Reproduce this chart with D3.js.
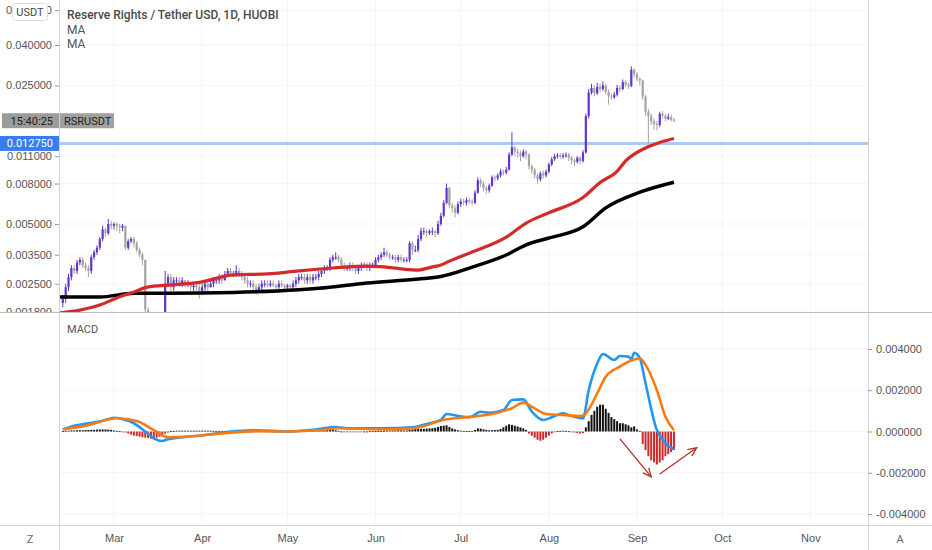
<!DOCTYPE html>
<html>
<head>
<meta charset="utf-8">
<script src="https://cdn.jsdelivr.net/npm/d3@7"></script>
<style>
  body { margin: 0; background: #fff; }
  svg { display: block; font-family: Roboto, "Open Sans", sans-serif; }
</style>
</head>
<body>
<svg id="chart" width="932" height="550"></svg>
<script>
// daily candles, first one is 2020-02-12
const firstDay = "2020-02-12";

const open = [
  .0020,.0021,.0024,.0027,.0030,.0029,.0032,.0033,.0031,.0030,
  .0029,.0034,.0036,.0038,.0042,.0047,.0045,.0050,.0049,.0050,
  .0049,.0048,.0049,.0038,.0041,.0042,.0040,.0037,.0035,.0033,
  .00185,.0017,.00175,.0017,.00172,.0017,.00175,.0025,.0027,.0024,
  .0026,.0026,.0025,.0026,.0025,.0025,.0024,.00245,.0024,.0023,
  .0024,.0025,.0024,.0025,.0026,.0026,.0027,.0026,.0028,.0029,
  .0028,.0028,.0029,.0028,.0027,.0026,.0025,.0025,.0024,.0023,
  .0024,.0025,.0025,.00245,.0025,.00245,.0024,.0025,.00245,.0024,
  .00245,.0024,.0025,.0026,.0027,.0027,.0026,.0027,.0026,.0027,
  .0027,.0028,.0029,.0030,.0030,.0033,.0034,.0034,.0033,.0031,
  .0030,.0030,.0031,.0030,.0029,.0030,.0031,.0031,.0030,.0031,
  .0031,.0033,.0034,.0035,.0036,.0035,.0034,.0034,.0033,.0034,
  .0033,.0033,.0033,.0040,.0037,.0037,.0042,.0046,.0046,.0045,
  .0046,.0046,.0045,.0050,.0055,.0064,.0076,.0062,.0060,.0057,
  .0063,.0065,.0064,.0066,.0065,.0064,.0072,.0083,.0080,.0076,
  .0074,.0078,.0086,.0085,.0088,.0092,.0091,.0094,.0112,.0122,
  .0116,.0114,.0110,.0116,.0112,.0098,.0094,.0088,.0084,.0090,
  .0088,.0092,.0100,.0106,.0110,.0111,.0109,.0111,.0112,.0108,
  .0105,.0103,.0108,.0104,.0115,.0175,.0230,.0243,.0228,.0246,
  .0240,.0250,.0232,.0220,.0218,.0225,.0243,.0240,.0260,.0252,
  .0248,.0300,.0285,.0270,.0265,.0220,.0184,.0175,.0165,.0160,
  .0158,.0180,.0176,.0170,.0173,.0168
];
const close = [
  .0021,.0024,.0027,.0030,.0029,.0032,.0033,.0031,.0030,.0029,
  .0034,.0036,.0038,.0042,.0047,.0045,.0050,.0049,.0050,.0049,
  .0048,.0049,.0038,.0041,.0042,.0040,.0037,.0035,.0033,.00185,
  .0017,.00175,.0017,.00172,.0017,.00175,.0025,.0027,.0024,.0026,
  .0026,.0025,.0026,.0025,.0025,.0024,.00245,.0024,.0023,.0024,
  .0025,.0024,.0025,.0026,.0026,.0027,.0026,.0028,.0029,.0028,
  .0028,.0029,.0028,.0027,.0026,.0025,.0025,.0024,.0023,.0024,
  .0025,.0025,.00245,.0025,.00245,.0024,.0025,.00245,.0024,.00245,
  .0024,.0025,.0026,.0027,.0027,.0026,.0027,.0026,.0027,.0027,
  .0028,.0029,.0030,.0030,.0033,.0034,.0034,.0033,.0031,.0030,
  .0030,.0031,.0030,.0029,.0030,.0031,.0031,.0030,.0031,.0031,
  .0033,.0034,.0035,.0036,.0035,.0034,.0034,.0033,.0034,.0033,
  .0033,.0033,.0040,.0037,.0037,.0042,.0046,.0046,.0045,.0046,
  .0046,.0045,.0050,.0055,.0064,.0076,.0062,.0060,.0057,.0063,
  .0065,.0064,.0066,.0065,.0064,.0072,.0083,.0080,.0076,.0074,
  .0078,.0086,.0085,.0088,.0092,.0091,.0094,.0112,.0122,.0116,
  .0114,.0110,.0116,.0112,.0098,.0094,.0088,.0084,.0090,.0088,
  .0092,.0100,.0106,.0110,.0111,.0109,.0111,.0112,.0108,.0105,
  .0103,.0108,.0104,.0115,.0175,.0230,.0243,.0228,.0246,.0240,
  .0250,.0232,.0220,.0218,.0225,.0243,.0240,.0260,.0252,.0248,
  .0300,.0285,.0270,.0265,.0220,.0184,.0175,.0165,.0160,.0158,
  .0180,.0176,.0170,.0173,.0168,.0166
];
const high = [
  .0022,.0025,.0028,.0031,.0031,.0033,.0034,.0034,.0032,.0031,
  .0035,.0037,.0039,.0043,.0049,.0048,.0053,.0052,.0051,.0051,
  .0050,.0050,.0049,.0042,.0043,.0043,.0041,.0038,.0036,.0033,
  .0019,.0018,.0018,.0018,.0018,.0018,.0029,.0028,.0028,.0027,
  .0027,.0027,.0027,.0026,.0026,.0025,.0025,.0025,.0025,.0025,
  .0026,.0026,.0026,.0027,.0027,.0028,.0028,.0029,.0030,.0030,
  .0029,.0031,.0030,.0029,.0028,.0027,.0026,.0026,.0025,.0025,
  .0026,.0026,.0026,.0026,.0026,.0025,.0026,.0026,.0025,.0025,
  .0025,.0026,.0027,.0028,.0028,.0028,.0028,.0028,.0028,.0028,
  .0029,.0030,.0031,.0031,.0034,.0035,.0036,.0035,.0034,.0032,
  .0031,.0032,.0032,.0031,.0031,.0032,.0032,.0032,.0032,.0032,
  .0034,.0035,.0036,.0038,.0037,.0036,.0035,.0035,.0035,.0035,
  .0034,.0034,.0041,.0041,.0039,.0044,.0048,.0048,.0047,.0047,
  .0048,.0047,.0052,.0057,.0066,.0080,.0077,.0064,.0062,.0065,
  .0067,.0067,.0068,.0068,.0067,.0074,.0086,.0085,.0082,.0078,
  .0080,.0088,.0088,.0090,.0095,.0094,.0097,.0115,.0145,.0124,
  .0120,.0117,.0119,.0118,.0114,.0100,.0096,.0090,.0092,.0093,
  .0094,.0102,.0109,.0113,.0114,.0114,.0114,.0115,.0114,.0110,
  .0107,.0110,.0110,.0118,.0180,.0240,.0255,.0250,.0258,.0255,
  .0262,.0255,.0238,.0228,.0232,.0252,.0250,.0268,.0266,.0258,
  .0312,.0305,.0292,.0275,.0268,.0224,.0190,.0180,.0170,.0166,
  .0184,.0186,.0179,.0180,.0178,.0172
];
const low = [
  .0019,.0020,.0023,.0026,.0028,.0028,.0031,.0030,.0029,.0027,
  .0028,.0033,.0035,.0037,.0041,.0043,.0044,.0047,.0047,.0046,
  .0045,.0046,.0037,.0037,.0040,.0038,.0036,.0034,.0031,.0017,
  .0016,.0016,.0016,.0016,.0016,.0016,.0017,.0024,.0023,.0023,
  .0025,.0024,.0024,.0024,.0024,.0023,.0023,.0023,.0021,.0022,
  .0023,.0023,.0024,.0024,.0025,.0025,.0025,.0026,.0027,.0027,
  .0027,.0027,.0027,.0026,.0025,.0024,.0024,.0023,.0022,.0023,
  .0023,.0024,.0024,.0024,.0024,.0023,.0023,.0024,.0023,.0023,
  .0023,.0023,.0024,.0025,.0026,.0025,.0025,.0025,.0025,.0026,
  .0026,.0027,.0028,.0029,.0029,.0032,.0033,.0032,.0030,.0029,
  .0029,.0029,.0029,.0028,.0028,.0029,.0030,.0029,.0029,.0030,
  .0030,.0032,.0033,.0034,.0034,.0033,.0033,.0032,.0032,.0032,
  .0032,.0032,.0032,.0035,.0036,.0036,.0041,.0044,.0043,.0044,
  .0044,.0043,.0044,.0049,.0054,.0063,.0060,.0057,.0054,.0056,
  .0061,.0062,.0062,.0063,.0062,.0063,.0071,.0077,.0073,.0071,
  .0072,.0077,.0082,.0083,.0086,.0088,.0089,.0093,.0110,.0110,
  .0108,.0104,.0108,.0106,.0094,.0090,.0085,.0080,.0082,.0085,
  .0086,.0090,.0098,.0104,.0107,.0106,.0107,.0108,.0104,.0100,
  .0098,.0101,.0100,.0102,.0113,.0170,.0225,.0220,.0224,.0232,
  .0235,.0225,.0200,.0212,.0214,.0220,.0232,.0236,.0245,.0240,
  .0245,.0275,.0262,.0250,.0212,.0176,.0128,.0158,.0150,.0148,
  .0154,.0170,.0165,.0167,.0164,.0163
];

// moving averages, read at sparse days (day offsets from firstDay)
const maRedDays   = [-1, 6, 13, 19, 25, 30, 37, 48, 60, 72, 83, 95, 107, 113, 119, 125, 130, 133, 136, 144, 156, 163, 171, 183, 189, 195, 198, 205, 210, 215];
const maRedValues = [.00178, .00184, .00195, .00212, .00227, .00241, .00246, .00254, .00277, .00280, .00290, .00300, .00307, .00304, .00297, .00293, .00304, .00311, .00325, .00361, .00429, .00506, .00570, .00680, .00810, .00923, .0104, .0121, .0129, .0135];
const maBlackDays   = [-1, 13, 25, 37, 60, 83, 90, 107, 125, 133, 144, 156, 163, 171, 183, 191, 203, 215];
const maBlackValues = [.00214, .00214, .00224, .00224, .00226, .00233, .00237, .00252, .00264, .00272, .00303, .00349, .00393, .00425, .00484, .00603, .00724, .00813];

// MACD and signal lines
const macdDays = [0, 4, 9, 14, 18, 21, 25, 29, 32, 35, 37, 42, 50, 61, 68, 79, 89, 96, 100, 112, 123, 129, 133, 135, 139, 143, 147, 150, 155, 158, 162, 165, 169, 172, 176, 179, 183, 185, 188, 190, 194, 196, 199, 200, 201, 203, 205, 209, 211, 215];
const macdValues = [.0001, .00028, .0004, .00052, .00067, .0006, .0004, 0, -.00033, -.00046, -.00038, -.00028, -.00017, .00002, .00006, 0, .0001, .00022, .00016, .00015, .0002, .0004, .00056, .00085, .00075, .00069, .00096, .00091, .00104, .00153, .00156, .00096, .00056, .00069, .00088, .00075, .00064, .002, .0033, .00376, .00347, .00366, .00363, .0035, .00382, .00355, .00234, .00007, -.00041, -.00086];
const signalDays = [0, 9, 19, 26, 32, 37, 44, 56, 68, 79, 91, 97, 112, 123, 135, 144, 153, 158, 162, 165, 170, 176, 182, 184, 188, 191, 196, 200, 203, 205, 209, 212, 215];
const signalValues = [.0001, .00031, .00064, .00051, .00007, -.00028, -.00025, -.00009, .00002, 0, .00007, .00016, .0001, .00015, .00059, .00072, .00091, .00113, .0014, .0012, .00085, .0008, .00075, .00088, .00185, .00266, .00315, .00344, .00355, .00323, .002, .00072, .00007];

// MACD histogram, one bar per day
const histValues = [
  .00002,.00003,.00004,.00005,.00005,.00006,.00006,.00006,.00007,.00007,
  .00008,.00008,.00009,.0001,.0001,.0001,.00009,.00008,.00005,.00003,
  .00001,-.00002,-.00005,-.0001,-.00015,-.0002,-.00022,-.00025,-.00028,-.0003,
  -.00032,-.00035,-.00033,-.0003,-.00025,-.00018,-.0001,-.00005,.00002,.00003,
  .00004,.00004,.00004,.00004,.00004,.00004,.00004,.00004,.00004,.00004,
  .00004,.00004,.00004,.00003,.00003,.00003,.00003,.00003,.00002,.00002,
  .00002,.00001,.00001,0,0,-.00001,-.00001,-.00001,-.00001,-.00001,
  -.00001,-.00001,0,0,0,0,.00001,.00001,.00001,.00001,
  .00002,.00002,.00003,.00003,.00004,.00005,.00005,.00005,.00004,.00004,
  .00004,.00005,.00006,.00007,.00008,.00007,.00006,.00003,0,-.00002,
  -.00003,-.00003,-.00003,-.00002,-.00002,-.00001,0,0,.00001,.00001,
  .00002,.00002,.00003,.00003,.00004,.00004,.00005,.00005,.00006,.00006,
  .00005,.00005,.00008,.0001,.00012,.00012,.00013,.00013,.00014,.00015,
  .00016,.00018,.00022,.00027,.00028,.0003,.00022,.00015,.0001,.00006,
  .00004,.00003,.00002,.00002,.00003,.00008,.00015,.00014,.0001,.00008,
  .00006,.00006,.00007,.00008,.00012,.0002,.00028,.00035,.00032,.00028,
  .00024,.0002,.00015,.00008,-.0001,-.0002,-.0003,-.0004,-.00045,-.0004,
  -.0003,-.0002,-.0001,-.00003,.00002,.00003,.00004,.00003,.00001,-.00002,
  -.00005,-.00008,-.0001,-.00008,.0002,.0005,.0008,.001,.0012,.0013,
  .0013,.0011,.0009,.0007,.0006,.0005,.0004,.0004,.00035,.0003,
  .0002,.00025,.0001,.00003,-.0006,-.0009,-.0012,-.0014,-.0015,-.0016,
  -.0015,-.0014,-.0012,-.0011,-.001,-.0009
];

const priceTicks = [0.0018, 0.0025, 0.0035, 0.005, 0.008, 0.011, 0.025, 0.04, 0.06];
const macdTicks = [-0.004, -0.002, 0, 0.002, 0.004];
const monthTicks = ["2020-03-01", "2020-04-01", "2020-05-01", "2020-06-01", "2020-07-01", "2020-08-01", "2020-09-01", "2020-10-01", "2020-11-01"];
const levelPrice = 0.01275;
// hand-drawn arrows: [fromDay, fromValue, toDay, toValue]
const arrows = [[196, -0.00036, 207, -0.0022], [210, -0.00206, 223, -0.00079]];

const svg = d3.select("#chart");
const left = 59, right = 868;
const priceTop = 0, priceBottom = 312;
const macdTop = 313, macdBottom = 525;

const parse = d3.utcParse("%Y-%m-%d");
const day0 = parse(firstDay);
const dayDate = i => d3.utcDay.offset(day0, i);

const x = d3.scaleUtc()
    .domain([parse("2020-03-01"), parse("2020-09-01")])
    .range([114, 637]);
const y = d3.scaleLog()
    .domain([0.0018, 0.04])
    .range([312, 45]);
const ym = d3.scaleLinear()
    .domain([-0.004, 0.004])
    .range([514, 349]);

const defs = svg.append("defs");
defs.append("clipPath").attr("id", "clipPrice")
    .append("rect").attr("x", left).attr("y", priceTop).attr("width", right - left).attr("height", priceBottom - priceTop);
defs.append("clipPath").attr("id", "clipMacd")
    .append("rect").attr("x", left).attr("y", macdTop).attr("width", right - left).attr("height", macdBottom - macdTop);
// used inside the axis group, which is shifted by `left`
defs.append("clipPath").attr("id", "clipAxis")
    .append("rect").attr("x", -left).attr("y", 0).attr("width", left).attr("height", priceBottom);
defs.append("marker").attr("id", "arrowHead")
    .attr("viewBox", "0 0 10 10").attr("refX", 9).attr("refY", 5)
    .attr("markerWidth", 7).attr("markerHeight", 7).attr("orient", "auto")
    .append("path").attr("d", "M0,1 L9,5 L0,9").attr("fill", "none")
    .attr("stroke", "#b03a2e").attr("stroke-width", 1.4);

// faint grid
const months = monthTicks.map(parse);
svg.append("g").selectAll("line").data(months).enter().append("line")
    .attr("x1", d => x(d)).attr("x2", d => x(d))
    .attr("y1", 0).attr("y2", macdBottom)
    .attr("stroke", "#f5f5f5");
svg.append("g").selectAll("line").data(priceTicks).enter().append("line")
    .attr("x1", left).attr("x2", right)
    .attr("y1", d => y(d)).attr("y2", d => y(d))
    .attr("stroke", "#f5f5f5");
svg.append("g").selectAll("line").data(macdTicks).enter().append("line")
    .attr("x1", left).attr("x2", right)
    .attr("y1", d => ym(d)).attr("y2", d => ym(d))
    .attr("stroke", "#f5f5f5");

// price pane
const pane = svg.append("g").attr("clip-path", "url(#clipPrice)");

pane.append("line")
    .attr("x1", left).attr("x2", right)
    .attr("y1", y(levelPrice)).attr("y2", y(levelPrice))
    .attr("stroke", "#a9c9f7").attr("stroke-width", 3);

const candles = close.map((c, i) => ({ date: dayDate(i), o: open[i], h: high[i], l: low[i], c: c }));
const upColor = "#6236c8", downColor = "#a3a3a3";

pane.append("g").selectAll("line").data(candles).enter().append("line")
    .attr("x1", d => x(d.date)).attr("x2", d => x(d.date))
    .attr("y1", d => y(d.h)).attr("y2", d => y(d.l))
    .attr("stroke", d => d.c >= d.o ? upColor : downColor)
    .attr("stroke-width", 1);

pane.append("g").selectAll("rect").data(candles).enter().append("rect")
    .attr("x", d => x(d.date) - 1.1)
    .attr("width", 2.2)
    .attr("y", d => y(Math.max(d.o, d.c)))
    .attr("height", d => Math.max(1, Math.abs(y(d.o) - y(d.c))))
    .attr("fill", d => d.c >= d.o ? upColor : downColor);

const maLine = d3.line()
    .x(d => x(dayDate(d[0])))
    .y(d => y(d[1]))
    .curve(d3.curveMonotoneX);

pane.append("path")
    .datum(maBlackDays.map((d, i) => [d, maBlackValues[i]]))
    .attr("fill", "none").attr("stroke", "#000").attr("stroke-width", 3.5)
    .attr("d", maLine);
pane.append("path")
    .datum(maRedDays.map((d, i) => [d, maRedValues[i]]))
    .attr("fill", "none").attr("stroke", "#d42a2a").attr("stroke-width", 3.2)
    .attr("d", maLine);

// macd pane
const mpane = svg.append("g").attr("clip-path", "url(#clipMacd)");

mpane.append("g").selectAll("rect").data(histValues).enter().append("rect")
    .attr("x", (d, i) => x(dayDate(i)) - 1)
    .attr("width", 2)
    .attr("y", d => ym(Math.max(0, d)))
    .attr("height", d => Math.max(0.8, Math.abs(ym(d) - ym(0))))
    .attr("fill", d => d >= 0 ? "#111" : "#cc2a2a");

const mLine = d3.line()
    .x(d => x(dayDate(d[0])))
    .y(d => ym(d[1]))
    .curve(d3.curveMonotoneX);

mpane.append("path")
    .datum(macdDays.map((d, i) => [d, macdValues[i]]))
    .attr("fill", "none").attr("stroke", "#2196f3").attr("stroke-width", 2.6)
    .attr("stroke-linejoin", "round")
    .attr("d", mLine);
mpane.append("path")
    .datum(signalDays.map((d, i) => [d, signalValues[i]]))
    .attr("fill", "none").attr("stroke", "#f57c14").attr("stroke-width", 2.6)
    .attr("stroke-linejoin", "round")
    .attr("d", mLine);

mpane.append("g").selectAll("line").data(arrows).enter().append("line")
    .attr("x1", d => x(dayDate(d[0]))).attr("y1", d => ym(d[1]))
    .attr("x2", d => x(dayDate(d[2]))).attr("y2", d => ym(d[3]))
    .attr("stroke", "#b03a2e").attr("stroke-width", 1.4)
    .attr("marker-end", "url(#arrowHead)");

// frame lines
const frame = svg.append("g").attr("stroke", "#d3d3d3").attr("stroke-width", 1);
frame.append("line").attr("x1", left + 0.5).attr("x2", left + 0.5).attr("y1", 0).attr("y2", 550);
frame.append("line").attr("x1", right + 0.5).attr("x2", right + 0.5).attr("y1", 0).attr("y2", 550);
frame.append("line").attr("x1", 0).attr("x2", 932).attr("y1", priceBottom + 0.5).attr("y2", priceBottom + 0.5).attr("stroke", "#bdbdbd");
frame.append("line").attr("x1", 0).attr("x2", 932).attr("y1", macdBottom + 0.5).attr("y2", macdBottom + 0.5);

// left price axis
const yAxis = svg.append("g")
    .attr("transform", `translate(${left},0)`)
    .attr("clip-path", "url(#clipAxis)")
    .call(d3.axisLeft(y).tickValues(priceTicks).tickFormat(d => d.toFixed(6)).tickSize(4).tickPadding(3));
yAxis.select(".domain").remove();
yAxis.selectAll("line").attr("stroke", "#9a9a9a");
yAxis.selectAll("text").attr("fill", "#555").attr("font-size", 11);

// right macd axis
const mAxis = svg.append("g")
    .attr("transform", `translate(${right},0)`)
    .call(d3.axisRight(ym).tickValues(macdTicks).tickFormat(d => d.toFixed(6)).tickSize(4).tickPadding(4));
mAxis.select(".domain").remove();
mAxis.selectAll("line").attr("stroke", "#9a9a9a");
mAxis.selectAll("text").attr("fill", "#555").attr("font-size", 11);

// time axis
const xAxis = svg.append("g")
    .attr("transform", `translate(0,${macdBottom})`)
    .call(d3.axisBottom(x).tickValues(months).tickFormat(d3.utcFormat("%b")).tickSize(0).tickPadding(9));
xAxis.select(".domain").remove();
xAxis.selectAll("text").attr("fill", "#555").attr("font-size", 11);

svg.append("text").attr("x", 30).attr("y", 543).attr("text-anchor", "middle")
    .attr("font-size", 11).attr("fill", "#666").text("Z");
svg.append("text").attr("x", 900).attr("y", 543).attr("text-anchor", "middle")
    .attr("font-size", 11).attr("fill", "#666").text("A");

// level label (blue)
const ly = y(levelPrice);
svg.append("rect").attr("x", 0).attr("y", ly - 7.5).attr("width", left).attr("height", 15).attr("fill", "#3a7df0");
svg.append("text").attr("x", 53).attr("y", ly + 4).attr("text-anchor", "end")
    .attr("font-size", 11).attr("fill", "#fff").text(levelPrice.toFixed(6));

// symbol label at last close
const lastY = y(close[close.length - 1]);
svg.append("rect").attr("x", 2).attr("y", lastY - 7.5).attr("width", left - 2).attr("height", 15).attr("fill", "#9b9b9b");
svg.append("text").attr("x", 53).attr("y", lastY + 4).attr("text-anchor", "end")
    .attr("font-size", 11).attr("fill", "#1e1e1e").text("15:40:25");
svg.append("rect").attr("x", left + 1).attr("y", lastY - 7.5).attr("width", 54).attr("height", 15).attr("fill", "#a0a0a0");
svg.append("text").attr("x", left + 5).attr("y", lastY + 4)
    .attr("font-size", 11).attr("fill", "#1e1e1e").text("RSRUSDT");

// currency badge (sits over the top tick label, as in TradingView)
svg.append("rect").attr("x", 12.5).attr("y", 3.5).attr("width", 35).attr("height", 17).attr("rx", 3)
    .attr("fill", "#fff").attr("stroke", "#dcdcdc");
svg.append("text").attr("x", 30).attr("y", 16).attr("text-anchor", "middle")
    .attr("font-size", 11).attr("fill", "#444").text("USDT");

// legends
svg.append("text").attr("x", 67).attr("y", 19).attr("font-size", 12).attr("font-weight", 500)
    .attr("fill", "#4a4a4a").text("Reserve Rights / Tether USD, 1D, HUOBI");
svg.append("text").attr("x", 67).attr("y", 34).attr("font-size", 12).attr("fill", "#555").text("MA");
svg.append("text").attr("x", 67).attr("y", 48).attr("font-size", 12).attr("fill", "#555").text("MA");
svg.append("text").attr("x", 67).attr("y", 333).attr("font-size", 11).attr("fill", "#555").text("MACD");
</script>
</body>
</html>
